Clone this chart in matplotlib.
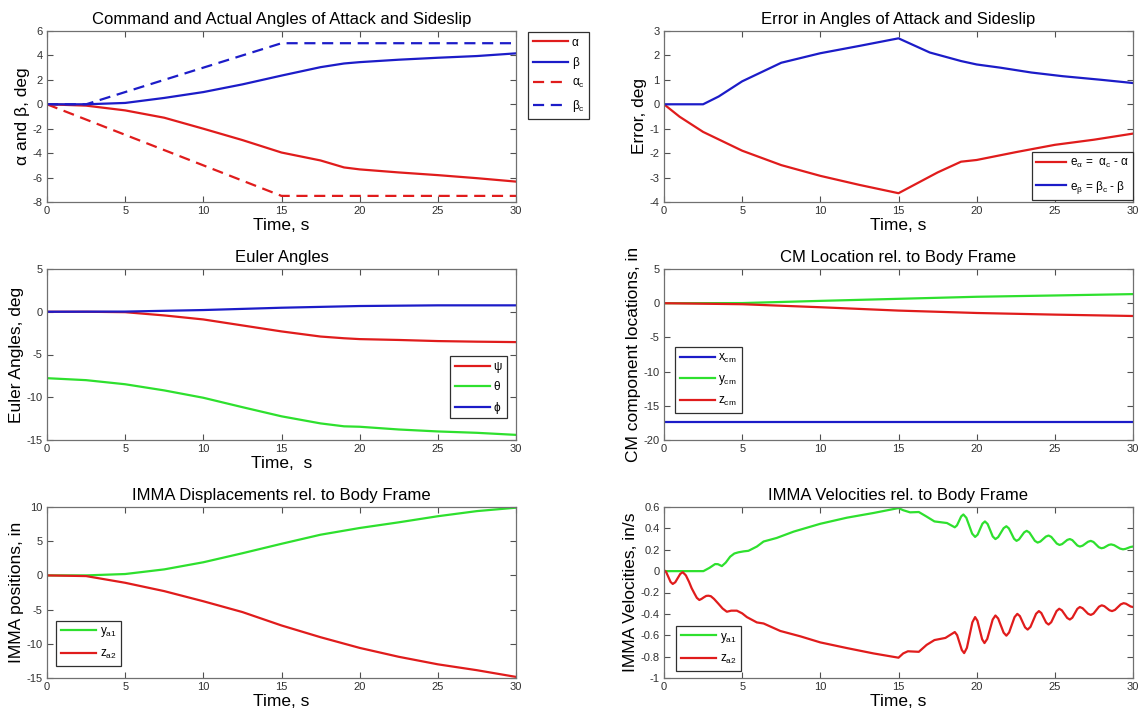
import numpy as np
import matplotlib
matplotlib.use('Agg')
import matplotlib.pyplot as plt
from matplotlib.ticker import FormatStrFormatter

plt.rcParams['font.family'] = ['Liberation Sans', 'DejaVu Sans']
plt.rcParams['mathtext.default'] = 'regular'
plt.rcParams['axes.unicode_minus'] = False

RED = '#e01c1c'
BLUE = '#1c1cc8'
GREEN = '#2ee02e'

# --- command / actual angles (deg)
t_alpha_c = [0, 15, 30]
alpha_c = [0, -7.5, -7.5]
t_beta_c = [0, 2.5, 15, 30]
beta_c = [0, 0, 5, 5]
t_ab = [0, 2.5, 5, 7.5, 10, 12.5, 15, 17.5, 19, 20, 22.5, 25, 27.5, 30]
alpha = [0, -0.11, -0.5, -1.1, -2.0, -2.93, -3.95, -4.6, -5.17, -5.33, -5.58, -5.8, -6.05, -6.33]
beta = [0, 0, 0.11, 0.52, 1.0, 1.63, 2.35, 3.04, 3.34, 3.45, 3.65, 3.81, 3.95, 4.17]

# --- errors (deg)
t_eb = [0, 2.5, 3.5, 5, 7.5, 10, 12.5, 15, 17, 19, 20, 21.5, 23.5, 25.5, 28, 30]
e_beta = [0, 0, 0.32, 0.94, 1.7, 2.09, 2.39, 2.7, 2.12, 1.77, 1.63, 1.5, 1.3, 1.15, 1.0, 0.87]
t_ea = [0, 1, 2.5, 5, 7.5, 10, 12.5, 15, 16, 17.5, 19, 20, 22.5, 25, 27.5, 30]
e_alpha = [0, -0.51, -1.13, -1.9, -2.49, -2.93, -3.3, -3.64, -3.3, -2.79, -2.35, -2.28, -1.96, -1.66, -1.45, -1.2]

# --- Euler angles (deg)
t_eul = [0, 2.5, 5, 7.5, 10, 12.5, 15, 17.5, 19, 20, 22.5, 25, 27.5, 30]
psi = [0, 0, -0.05, -0.43, -0.9, -1.6, -2.3, -2.9, -3.1, -3.2, -3.3, -3.43, -3.5, -3.55]
theta = [-7.77, -8.0, -8.48, -9.2, -10.06, -11.16, -12.23, -13.06, -13.4, -13.45, -13.77, -14.0, -14.16, -14.4]
t_phi = [0, 5, 10, 15, 20, 25, 30]
phi = [0, 0.02, 0.2, 0.47, 0.67, 0.75, 0.75]

# --- CM location (in)
t_cm = [0, 5, 10, 15, 20, 25, 30]
x_cm = [-17.4, -17.4, -17.4, -17.4, -17.4, -17.4, -17.4]
y_cm = [0, 0.02, 0.34, 0.64, 0.94, 1.13, 1.33]
z_cm = [0, -0.15, -0.59, -1.08, -1.43, -1.67, -1.87]

# --- IMMA displacements (in)
t_pos = [0, 2.5, 5, 7.5, 10, 12.5, 15, 17.5, 20, 22.5, 25, 27.5, 30]
y_a1 = [0, 0, 0.2, 0.88, 1.92, 3.24, 4.62, 5.95, 6.93, 7.76, 8.65, 9.4, 9.9]
z_a2 = [0, -0.1, -1.08, -2.3, -3.78, -5.36, -7.32, -9.04, -10.6, -11.9, -13.0, -13.86, -14.84]

# --- IMMA velocities (in/s)
t_vy = [0, 2.52, 2.9, 3.27, 3.45, 3.7, 3.95, 4.23, 4.5, 4.76, 5.1, 5.4, 5.94, 6.37, 7.2, 8.3,
        10, 11.7, 13.4, 15, 15.3, 15.74, 16.3, 16.8, 17.3, 18.1, 18.6,
        18.74, 18.875, 19.01, 19.15, 19.34, 19.525, 19.71, 19.9, 20.06, 20.215, 20.37, 20.53,
        20.7, 20.865, 21.03, 21.2, 21.375, 21.55, 21.725, 21.9, 22.06, 22.225, 22.39, 22.55,
        22.71, 22.875, 23.04, 23.2, 23.375, 23.55, 23.725, 23.9, 24.075, 24.25, 24.425, 24.6,
        24.775, 24.95, 25.125, 25.3, 25.465, 25.63, 25.795, 25.96, 26.12, 26.28, 26.44, 26.6,
        26.775, 26.95, 27.125, 27.3, 27.47, 27.64, 27.81, 27.98, 28.135, 28.29, 28.445, 28.6,
        28.79, 28.98, 29.17, 29.36, 29.52, 29.68, 29.84, 30]
v_ya1 = [0, 0, 0.03, 0.066, 0.065, 0.047, 0.08, 0.135, 0.165, 0.176, 0.185, 0.19, 0.23, 0.277, 0.31, 0.37,
         0.443, 0.5, 0.544, 0.59, 0.57, 0.55, 0.553, 0.51, 0.465, 0.45, 0.41,
         0.428, 0.47, 0.512, 0.53, 0.499, 0.425, 0.351, 0.32, 0.341, 0.393, 0.444, 0.465,
         0.441, 0.383, 0.324, 0.30, 0.318, 0.36, 0.402, 0.42, 0.40, 0.352, 0.303, 0.283,
         0.297, 0.33, 0.363, 0.377, 0.361, 0.322, 0.283, 0.267, 0.277, 0.30, 0.323, 0.333,
         0.32, 0.289, 0.258, 0.245, 0.253, 0.2725, 0.292, 0.30, 0.29, 0.265, 0.24, 0.23,
         0.238, 0.2565, 0.275, 0.283, 0.273, 0.2485, 0.224, 0.214, 0.219, 0.232, 0.245, 0.25,
         0.243, 0.227, 0.211, 0.204, 0.208, 0.217, 0.226, 0.23]
t_vz = [0, 0.14, 0.28, 0.42, 0.56, 0.72, 0.88, 1.04, 1.2, 1.4, 1.6, 1.77, 1.95, 2.1, 2.26,
        2.4, 2.55, 2.7, 2.84, 3.0, 3.2, 3.48, 3.75, 4.02, 4.3, 4.66, 5.0, 5.3, 5.94, 6.37,
        7.44, 8.72, 10, 11.7, 13.4, 15, 15.3, 15.6, 16.3, 16.8, 17.3, 18, 18.6,
        18.75, 18.9, 19.05, 19.2, 19.375, 19.55, 19.725, 19.9, 20.05, 20.2, 20.35, 20.5,
        20.675, 20.85, 21.025, 21.2, 21.375, 21.55, 21.725, 21.9, 22.075, 22.25, 22.425, 22.6,
        22.765, 22.93, 23.095, 23.26, 23.44, 23.62, 23.8, 23.98, 24.135, 24.29, 24.445, 24.6,
        24.77, 24.94, 25.11, 25.28, 25.45, 25.62, 25.79, 25.96, 26.12, 26.28, 26.44, 26.6,
        26.775, 26.95, 27.125, 27.3, 27.475, 27.65, 27.825, 28.0, 28.165, 28.33, 28.495, 28.66,
        28.845, 29.03, 29.215, 29.4, 29.55, 29.7, 29.85, 30]
v_za2 = [0.01, -0.009, -0.055, -0.101, -0.12, -0.104, -0.065, -0.026, -0.01, -0.04, -0.1, -0.16, -0.21, -0.25, -0.27,
         -0.26, -0.245, -0.232, -0.23, -0.235, -0.26, -0.305, -0.35, -0.38, -0.37, -0.37, -0.395, -0.43, -0.48, -0.49,
         -0.56, -0.61, -0.667, -0.72, -0.77, -0.81, -0.77, -0.75, -0.755, -0.69, -0.645, -0.625, -0.57,
         -0.599, -0.6685, -0.738, -0.767, -0.718, -0.5985, -0.479, -0.43, -0.465, -0.5515, -0.638, -0.673,
         -0.635, -0.544, -0.453, -0.415, -0.443, -0.5095, -0.576, -0.604, -0.574, -0.502, -0.43, -0.40,
         -0.421, -0.4735, -0.526, -0.547, -0.522, -0.4605, -0.399, -0.374, -0.392, -0.437, -0.482, -0.5,
         -0.478, -0.426, -0.374, -0.352, -0.367, -0.4025, -0.438, -0.453, -0.436, -0.3945, -0.353, -0.336,
         -0.347, -0.373, -0.399, -0.41, -0.397, -0.365, -0.333, -0.32, -0.328, -0.347, -0.366, -0.374,
         -0.363, -0.337, -0.311, -0.30, -0.305, -0.318, -0.331, -0.336]
vel_ticks = [-1, -0.8, -0.6, -0.4, -0.2, 0, 0.2, 0.4, 0.6]

fig = plt.figure(figsize=(11.38, 7.14), dpi=100)
lefts = [47/1138, 664/1138]
bottoms = [1-202/714, 1-440/714, 1-678/714]
w, h = 469/1138, 171/714
axs = [[fig.add_axes([lefts[c], bottoms[r], w, h]) for c in range(2)] for r in range(3)]


def style(ax, ylim, yticks, title, ylabel, xlabel='Time, s', fmt='%g'):
    ax.set_xlim(0, 30)
    ax.set_ylim(*ylim)
    ax.set_xticks(np.arange(0, 31, 5))
    ax.set_yticks(yticks)
    ax.yaxis.set_major_formatter(FormatStrFormatter(fmt))
    ax.tick_params(direction='in', length=4, width=0.8, top=True, right=True,
                   labelsize=8, colors='#505050', labelcolor='#303030', pad=3)
    for s in ax.spines.values():
        s.set_color('#707070')
        s.set_linewidth(0.9)
    ax.set_title(title, fontsize=12, pad=5)
    ax.set_ylabel(ylabel, fontsize=12.5, labelpad=2)
    if xlabel:
        ax.set_xlabel(xlabel, fontsize=12.5, labelpad=1)


def legend(ax, handlelength=3, **kw):
    lg = ax.legend(fontsize=8.5, fancybox=False, framealpha=1, handlelength=handlelength,
                   borderaxespad=0, labelspacing=0.7, handletextpad=0.3, **kw)
    lg.get_frame().set_edgecolor('#303030')
    lg.get_frame().set_linewidth(0.9)
    return lg


lw = 1.6

ax = axs[0][0]
ax.plot(t_ab, alpha, color=RED, lw=lw, label='α')
ax.plot(t_ab, beta, color=BLUE, lw=lw, label='β')
ax.plot(t_alpha_c, alpha_c, color=RED, lw=lw, ls=(0, (5, 3)), label='α$_c$')
ax.plot(t_beta_c, beta_c, color=BLUE, lw=lw, ls=(0, (5, 3)), label='β$_c$')
style(ax, (-8, 6), np.arange(-8, 7, 2), 'Command and Actual Angles of Attack and Sideslip', 'α and β, deg')
legend(ax, loc='upper left', bbox_to_anchor=(1.026, 0.995))

ax = axs[0][1]
ax.plot(t_ea, e_alpha, color=RED, lw=lw, label='e$_α$ =  α$_c$ - α')
ax.plot(t_eb, e_beta, color=BLUE, lw=lw, label='e$_β$ = β$_c$ - β')
style(ax, (-4, 3), np.arange(-4, 4, 1), 'Error in Angles of Attack and Sideslip', 'Error, deg')
legend(ax, loc='lower right', bbox_to_anchor=(1.0, 0.01), handlelength=2.5)

ax = axs[1][0]
ax.plot(t_eul, psi, color=RED, lw=lw, label='ψ')
ax.plot(t_eul, theta, color=GREEN, lw=lw, label='θ')
ax.plot(t_phi, phi, color=BLUE, lw=lw, label='ϕ')
style(ax, (-15, 5), np.arange(-15, 6, 5), 'Euler Angles', 'Euler Angles, deg', xlabel='Time,  s')
legend(ax, loc='lower right', bbox_to_anchor=(0.98, 0.126))

ax = axs[1][1]
ax.plot(t_cm, x_cm, color=BLUE, lw=lw, label='x$_{cm}$')
ax.plot(t_cm, y_cm, color=GREEN, lw=lw, label='y$_{cm}$')
ax.plot(t_cm, z_cm, color=RED, lw=lw, label='z$_{cm}$')
style(ax, (-20, 5), np.arange(-20, 6, 5), 'CM Location rel. to Body Frame', 'CM component locations, in', xlabel=None)
legend(ax, loc='lower left', bbox_to_anchor=(0.023, 0.157))

ax = axs[2][0]
ax.plot(t_pos, y_a1, color=GREEN, lw=lw, label='y$_{a1}$')
ax.plot(t_pos, z_a2, color=RED, lw=lw, label='z$_{a2}$')
style(ax, (-15, 10), np.arange(-15, 11, 5), 'IMMA Displacements rel. to Body Frame', 'IMMA positions, in')
legend(ax, loc='lower left', bbox_to_anchor=(0.019, 0.073))

ax = axs[2][1]
ax.plot(t_vy, v_ya1, color=GREEN, lw=lw, label='y$_{a1}$')
ax.plot(t_vz, v_za2, color=RED, lw=lw, label='z$_{a2}$')
style(ax, (-1, 0.6), vel_ticks, 'IMMA Velocities rel. to Body Frame', 'IMMA Velocities, in/s')
legend(ax, loc='lower left', bbox_to_anchor=(0.026, 0.043))

fig.savefig('out.png', dpi=100)
